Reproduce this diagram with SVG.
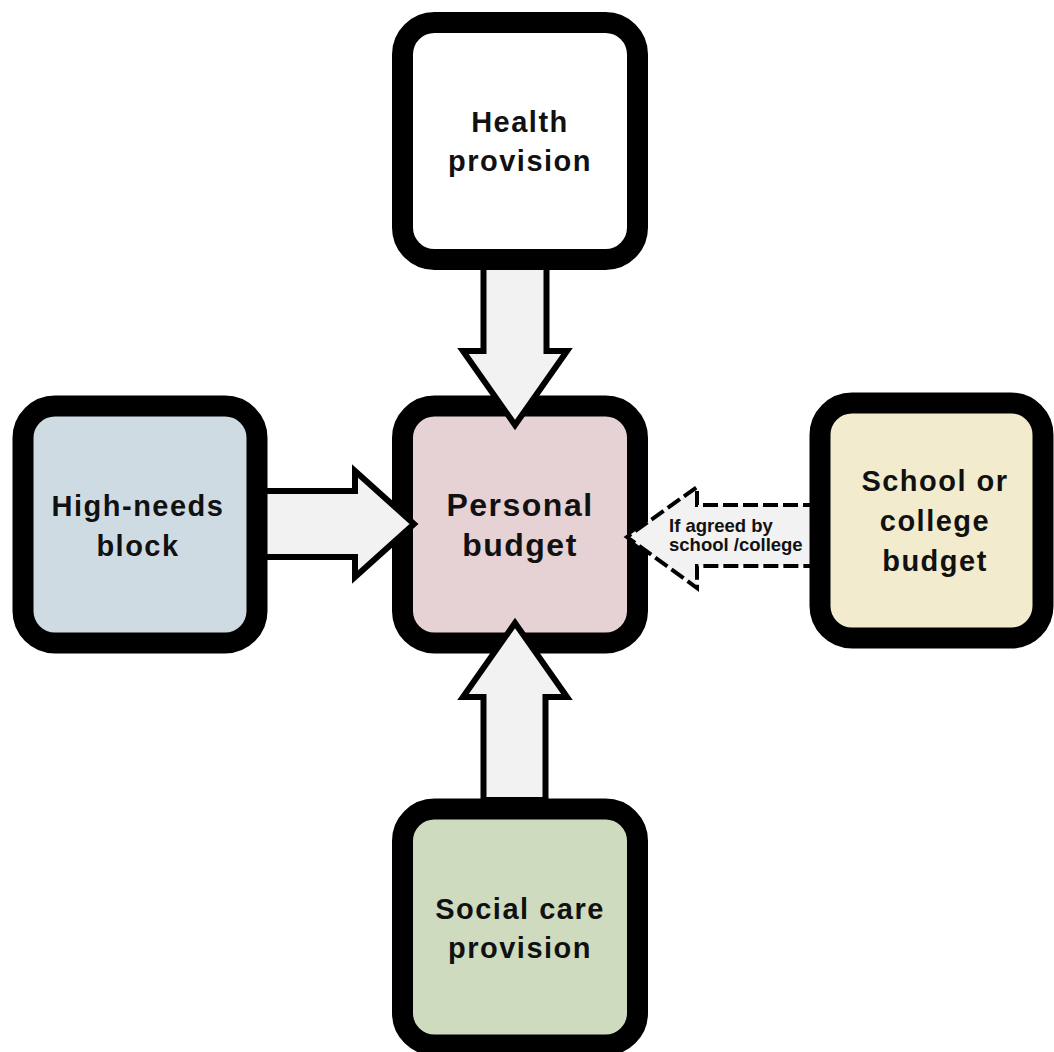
<svg xmlns="http://www.w3.org/2000/svg" width="1054" height="1052" viewBox="0 0 1054 1052">
<style>
.node{stroke:#000;stroke-width:21;}
.lbl{font-family:"Liberation Sans",Arial,sans-serif;font-weight:bold;font-size:29px;fill:#111;text-anchor:middle;letter-spacing:1.5px;}
.big{font-size:32px;}
.arrow{fill:#f2f2f2;stroke:#000;stroke-width:6;stroke-linejoin:miter;}
.dash{fill:#f2f2f2;stroke:#000;stroke-width:4;stroke-dasharray:15 5;}
.small{font-family:"Liberation Sans",Arial,sans-serif;font-weight:bold;font-size:18.5px;fill:#111;}
</style>
<rect width="1054" height="1052" fill="#fff"/>
<g id="personal-budget">
<rect class="node" x="402.5" y="406" width="235" height="237" rx="32" fill="#e6d2d4"/>
<text class="lbl big" x="520" y="516">Personal</text>
<text class="lbl big" x="520" y="556">budget</text>
</g>
<g id="connectors">
<polygon class="arrow" points="483.5,262 546.5,262 546.5,351 567,351 515,425 463,351 483.5,351"/>
<polygon class="arrow" points="483.5,800 545.5,800 545.5,697 567,697 515,623 463,697 483.5,697"/>
<polygon class="arrow" points="258,491 355,491 355,471 414,524 355,577 355,557 258,557"/>
<polygon class="dash" points="818,505 697,505 697,487 627,537 697,588 697,566 818,566"/>
<text class="small" x="669" y="532">If agreed by</text>
<text class="small" x="669" y="551">school /college</text>
</g>
<g id="health-provision">
<rect class="node" x="402.5" y="22.5" width="235" height="237" rx="32" fill="#fff"/>
<text class="lbl" x="520" y="132">Health</text>
<text class="lbl" x="520" y="171">provision</text>
</g>
<g id="high-needs-block">
<rect class="node" x="23" y="406" width="234" height="237" rx="32" fill="#cfdbe3"/>
<text class="lbl" x="138" y="516">High-needs</text>
<text class="lbl" x="138" y="556">block</text>
</g>
<g id="school-college-budget">
<rect class="node" x="820" y="403" width="223" height="235" rx="32" fill="#f2ebcd"/>
<text class="lbl" x="935" y="491">School or</text>
<text class="lbl" x="935" y="531">college</text>
<text class="lbl" x="935" y="571">budget</text>
</g>
<g id="social-care-provision">
<rect class="node" x="402.5" y="809" width="235" height="236" rx="32" fill="#cfdbbf"/>
<text class="lbl" x="520" y="919">Social care</text>
<text class="lbl" x="520" y="958">provision</text>
</g>
</svg>
